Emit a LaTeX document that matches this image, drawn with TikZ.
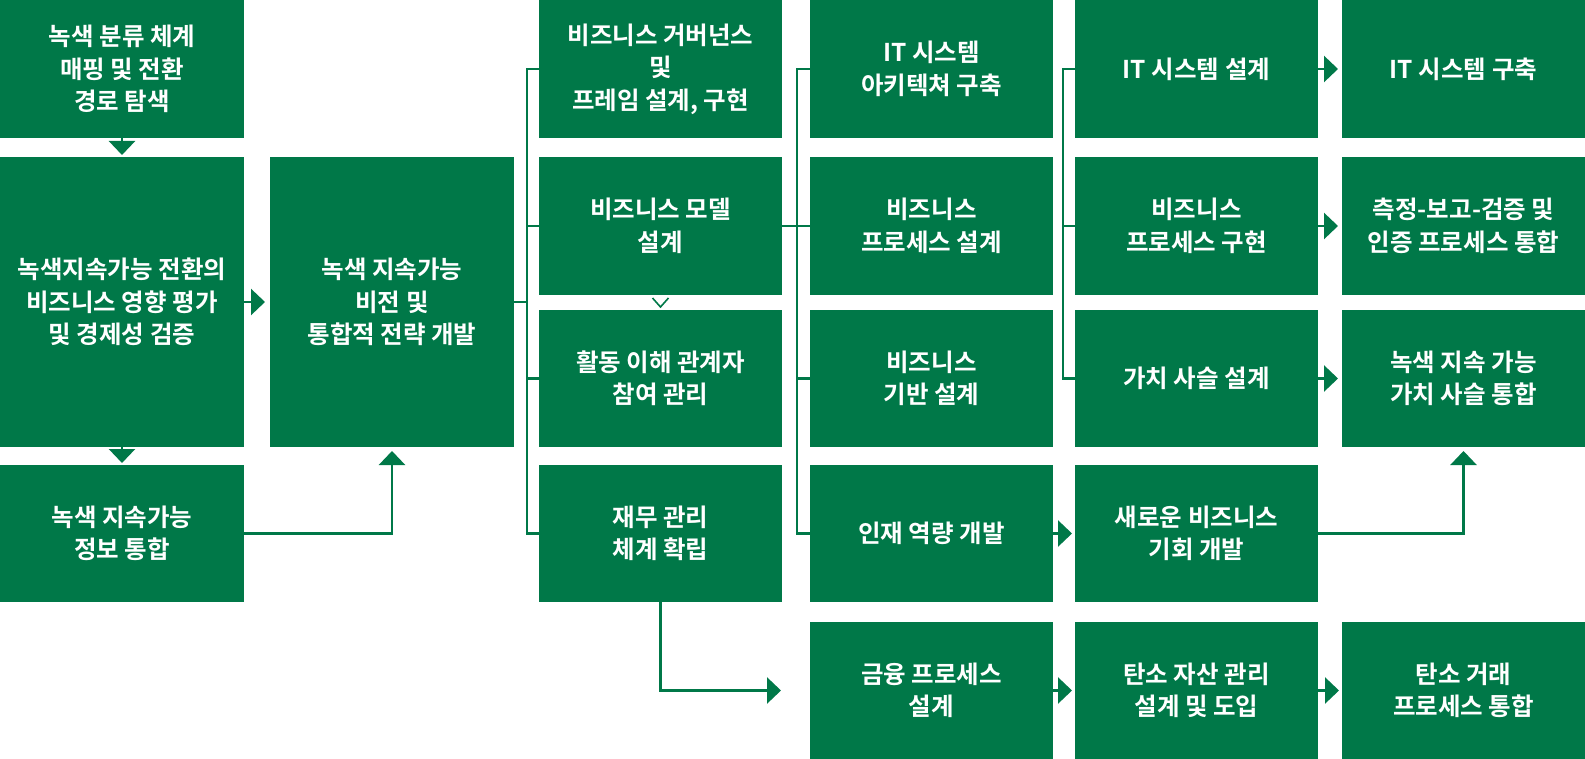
\documentclass[tikz,border=0pt]{standalone}
\usepackage{fontspec}
\setmainfont{Noto Sans CJK KR}[BoldFont={Noto Sans CJK KR Bold}]
\usetikzlibrary{arrows.meta,calc}
\definecolor{gr}{HTML}{007848}
\tikzset{
  box/.style={fill=gr, draw=none, inner sep=0pt, outer sep=0pt, text=white,
    align=center, font=\fontsize{24.5}{32.5}\selectfont\bfseries,
    minimum width=#1},
  box/.default=243,
  rowh/.style={minimum height=137},
  ln/.style={draw=gr, line width=2.6pt},
  arr/.style={draw=gr, line width=2.6pt, -{Triangle[width=26pt,length=14pt]}},
  chev/.style={draw=gr, line width=1.6pt}
}
\begin{document}
\begin{tikzpicture}[x=1pt,y=-1pt]
\useasboundingbox (0,0) rectangle (1585,759);
% column 1
\node[box=244, minimum height=138] (A) at (122,69) {녹색 분류 체계\\매핑 및 전환\\경로 탐색};
\node[box=244, minimum height=290] (B) at (122,302) {녹색지속가능 전환의\\비즈니스 영향 평가\\및 경제성 검증};
\node[box=244, rowh] (D) at (122,533.5) {녹색 지속가능\\정보 통합};
% column 2
\node[box=244, minimum height=290] (C) at (392,302) {녹색 지속가능\\비전 및\\통합적 전략 개발};
% column 3
\node[box, minimum height=138] (M1) at (660.5,69) {비즈니스 거버넌스\\및\\프레임 설계, 구현};
\node[box, minimum height=138] (M2) at (660.5,226) {비즈니스 모델\\설계};
\node[box, rowh] (M3) at (660.5,378.5) {활동 이해 관계자\\참여 관리};
\node[box, rowh] (M4) at (660.5,533.5) {재무 관리\\체계 확립};
% column 4
\node[box, minimum height=138] (N1) at (931.5,69) {IT 시스템\\아키텍쳐 구축};
\node[box, minimum height=138] (N2) at (931.5,226) {비즈니스\\프로세스 설계};
\node[box, rowh] (N3) at (931.5,378.5) {비즈니스\\기반 설계};
\node[box, rowh] (N4) at (931.5,533.5) {인재 역량 개발};
\node[box, rowh] (N5) at (931.5,690.5) {금융 프로세스\\설계};
% column 5
\node[box, minimum height=138] (P1) at (1196.5,69) {IT 시스템 설계};
\node[box, minimum height=138] (P2) at (1196.5,226) {비즈니스\\프로세스 구현};
\node[box, rowh] (P3) at (1196.5,378.5) {가치 사슬 설계};
\node[box, rowh] (P4) at (1196.5,533.5) {새로운 비즈니스\\기회 개발};
\node[box, rowh] (P5) at (1196.5,690.5) {탄소 자산 관리\\설계 및 도입};
% column 6
\node[box, minimum height=138] (Q1) at (1463.5,69) {IT 시스템 구축};
\node[box, minimum height=138] (Q2) at (1463.5,226) {측정-보고-검증 및\\인증 프로세스 통합};
\node[box, rowh] (Q3) at (1463.5,378.5) {녹색 지속 가능\\가치 사슬 통합};
\node[box, rowh] (Q5) at (1463.5,690.5) {탄소 거래\\프로세스 통합};

% bend / bracket coordinates
\coordinate (dc) at (392,451);
\coordinate (x1) at (527,0);
\coordinate (x2) at (797,0);
\coordinate (x3) at (1063,0);
\coordinate (pq) at (1463.5,451);
\coordinate (mn) at (781,690.5);

% column 1 arrows
\draw[arr, shorten >=2pt] (A.south) -- (B.north);
\draw[arr, shorten >=2pt] (B.south) -- (D.north);
\draw[arr, shorten >=5pt] (B.east) -- (C.west);
\draw[arr] (D.east) -| (dc);

% bracket C -> column 3
\draw[ln] (C.east) -- (x1|-C.east);
\draw[ln] (M1.west) -| (x1|-M4.west) -- (M4.west);
\draw[ln] (x1|-M2.west) -- (M2.west);
\draw[ln] (x1|-M3.west) -- (M3.west);

% chevron between M2 and M3
\draw[chev] ($(M2.south)+(-8,3)$) -- ++(8,9) -- ++(8,-9);

% bracket M2 -> column 4
\draw[ln] (M2.east) -- (N2.west);
\draw[ln] (N1.west) -| (x2|-N4.west) -- (N4.west);
\draw[ln] (x2|-N3.west) -- (N3.west);

% bracket column 4 -> column 5
\draw[ln] (P1.west) -| (x3|-P3.west) -- (P3.west);
\draw[ln] (x3|-P2.west) -- (P2.west);

% M4 -> N5
\draw[arr] (M4.south) |- (mn);

% horizontal arrows
\draw[arr, shorten >=3pt] (N4.east) -- (P4.west);
\draw[arr, shorten >=3pt] (N5.east) -- (P5.west);
\draw[arr, shorten >=3pt] (P5.east) -- (Q5.west);
\draw[arr, shorten >=4pt] (P1.east) -- (Q1.west);
\draw[arr, shorten >=4pt] (P2.east) -- (Q2.west);
\draw[arr, shorten >=4pt] (P3.east) -- (Q3.west);
\draw[arr] (P4.east) -| (pq);
\end{tikzpicture}
\end{document}
